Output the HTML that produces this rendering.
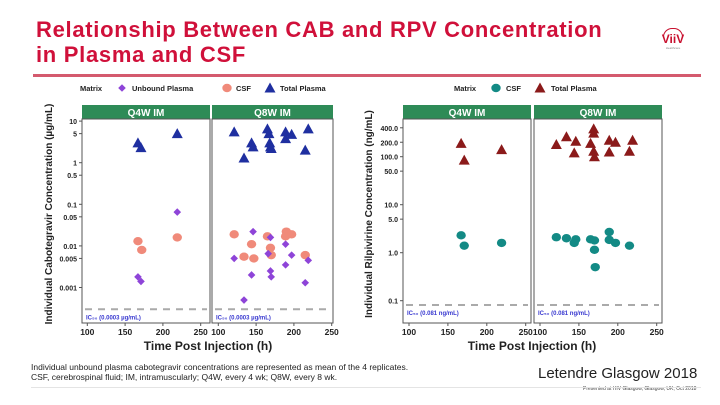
<!DOCTYPE html>
<html><head><meta charset="utf-8"><style>
body{margin:0;background:#fff;}
#wrap{position:relative;width:720px;height:405px;overflow:hidden;font-family:"Liberation Sans",sans-serif;}
.title{position:absolute;left:36px;top:17px;color:#d0103a;font-weight:bold;font-size:22px;letter-spacing:0.7px;line-height:25px;}
</style></head><body>
<div id="wrap">
<div class="title">Relationship Between CAB and RPV Concentration<br>in Plasma and CSF</div>
<div style="position:absolute;left:33px;top:74px;width:668px;height:3px;background:#d45a6e"></div>
<div style="position:absolute;left:663px;top:28px;width:18px;height:8px;border:1px solid #c8102e;border-bottom:none;border-radius:10px 10px 0 0"></div>
<div style="position:absolute;left:657px;top:33px;width:32px;text-align:center;color:#c8102e;font-weight:bold;font-size:12px;line-height:13px">ViiV</div>
<div style="position:absolute;left:657px;top:46px;width:32px;text-align:center;color:#888;font-size:3px;">Healthcare</div>
<svg id="svg" width="720" height="405" style="position:absolute;left:0;top:0"></svg>
<div style="position:absolute;left:31px;top:362px;font-size:8.5px;line-height:10px;color:#222">Individual unbound plasma cabotegravir concentrations are represented as mean of the 4 replicates.<br>CSF, cerebrospinal fluid; IM, intramuscularly; Q4W, every 4 wk; Q8W, every 8 wk.</div>
<div style="position:absolute;left:538px;top:365px;font-size:15px;color:#222">Letendre Glasgow 2018</div>
<div style="position:absolute;left:583px;top:386px;font-size:5px;color:#444">Presented at HIV Glasgow, Glasgow, UK, Oct 2018</div>
<div style="position:absolute;left:31px;top:387px;width:670px;height:1px;background:#e4e4e4"></div>
</div>
<script>
// CAB chart data
const cabQ4Time=[167,171,219];
const cabQ4Total=[3,2.3,5];
const cabQ4CsfTime=[167,172,219];
const cabQ4Csf=[0.013,0.008,0.016];
const cabQ4UnbTime=[167,171,219];
const cabQ4Unb=[0.0018,0.0014,0.065];
const cabQ8TotTime=[121,134,144,146,165,167,168,169,170,189,189,197,215,219];
const cabQ8Total=[5.5,1.3,3,2.4,6.5,5,3,2.4,2.2,5.5,3.8,4.8,2,6.5];
const cabQ8CsfTime=[121,134,144,147,165,169,170,190,189,197,215];
const cabQ8Csf=[0.019,0.0055,0.011,0.005,0.017,0.009,0.006,0.022,0.017,0.019,0.006];
const cabQ8UnbTime=[121,134,144,146,166,169,169,170,189,189,197,215,219];
const cabQ8Unb=[0.005,0.0005,0.002,0.022,0.0065,0.016,0.0025,0.0018,0.011,0.0035,0.006,0.0013,0.0045];
// RPV chart data
const rpvQ4Time=[167,171,219];
const rpvQ4Total=[190,85,140];
const rpvQ4CsfTime=[167,171,219];
const rpvQ4Csf=[2.3,1.4,1.6];
const rpvQ8TotTime=[121,134,146,144,165,169,169,169,170,189,189,197,215,219];
const rpvQ8Total=[180,260,210,120,190,380,310,130,100,220,125,200,130,220];
const rpvQ8CsfTime=[121,134,146,144,165,170,170,171,189,189,197,215];
const rpvQ8Csf=[2.1,2.0,1.9,1.6,1.9,1.8,1.15,0.5,2.7,1.85,1.6,1.4];
const xTicks=[100,150,200,250];
const cabYTicks=[10,5,1,0.5,0.1,0.05,0.01,0.005,0.001];
const cabYLabels=["10","5","1","0.5","0.1","0.05","0.01","0.005","0.001"];
const rpvYTicks=[400,200,100,50,10,5,1,0.1];
const rpvYLabels=["400.0","200.0","100.0","50.0","10.0","5.0","1.0","0.1"];

const S=document.getElementById('svg');const NS='http://www.w3.org/2000/svg';
function mk(t,a,p){const e=document.createElementNS(NS,t);for(const k in a)e.setAttribute(k,a[k]);(p||S).appendChild(e);return e;}
function txt(x,y,s,a){const e=mk('text',Object.assign({x:x,y:y,'font-family':'Liberation Sans, sans-serif'},a));e.textContent=s;return e;}
function tri(x,y,c){const e=mk('polygon',{points:`${x},${y-5.5} ${x-5.5},${y+4.5} ${x+5.5},${y+4.5}`,fill:c});

}
function dot(x,y,c){const e=mk('ellipse',{cx:x,cy:y,rx:4.7,ry:4.2,fill:c});

}
function dia(x,y,c){const e=mk('polygon',{points:`${x},${y-3.8} ${x+3.8},${y} ${x},${y+3.8} ${x-3.8},${y}`,fill:c});

}

function panel(x0,x1,x100,x250,yf,label,ic,icY){
  const h=mk('rect',{x:x0,y:105,width:x1-x0,height:14,fill:'#2e8b57'});
  
  
  txt((x0+x1)/2,116,label,{fill:'#fff','font-size':10,'font-weight':'bold','text-anchor':'middle'});
  const b=mk('rect',{x:x0,y:119,width:x1-x0,height:204,fill:'none',stroke:'#555','stroke-width':1});
  
  
  const xs=v=>x100+(v-100)*(x250-x100)/150;
  xTicks.forEach(v=>{mk('line',{x1:xs(v),x2:xs(v),y1:323,y2:326,stroke:'#555'});
    txt(xs(v),335,String(v),{'font-size':8.5,'font-weight':'bold','text-anchor':'middle',fill:'#222'});});
  const l=mk('line',{x1:x0+3,x2:x1-3,y1:icY,y2:icY,stroke:'#aaa','stroke-width':2,'stroke-dasharray':'7,6'});
  
  
  txt(x0+4,icY+10,ic,{'font-size':6,'font-weight':'bold',fill:'#3a3ad0'});
  return xs;
}
// CAB
const cy=v=>162.7-Math.log10(v)*41.6;
const xa=panel(82,210,87.3,200.7,cy,'Q4W IM','IC\u2085\u2080 (0.0003 \u00b5g/mL)',cy(0.0003));
const xb=panel(212,333,218.3,331.7,cy,'Q8W IM','IC\u2085\u2080 (0.0003 \u00b5g/mL)',cy(0.0003));
cabYTicks.forEach((v,i)=>{mk('line',{x1:79,x2:82,y1:cy(v),y2:cy(v),stroke:'#555'});
  txt(77,cy(v)+3,cabYLabels[i],{'font-size':7,'font-weight':'bold','text-anchor':'end',fill:'#222'});});
cabQ4CsfTime.forEach((t,i)=>dot(xa(t),cy(cabQ4Csf[i]),'#f08a7a'));
cabQ4UnbTime.forEach((t,i)=>dia(xa(t),cy(cabQ4Unb[i]),'#8e44d8'));
cabQ4Time.forEach((t,i)=>tri(xa(t),cy(cabQ4Total[i]),'#1f2fa0'));
cabQ8CsfTime.forEach((t,i)=>dot(xb(t),cy(cabQ8Csf[i]),'#f08a7a'));
cabQ8UnbTime.forEach((t,i)=>dia(xb(t),cy(cabQ8Unb[i]),'#8e44d8'));
cabQ8TotTime.forEach((t,i)=>tri(xb(t),cy(cabQ8Total[i]),'#1f2fa0'));
txt(0,0,'Individual Cabotegravir Concentration (\u00b5g/mL)',{'font-size':10,'font-weight':'bold','text-anchor':'middle',fill:'#222',transform:'translate(52,214) rotate(-90)'});
txt(208,350,'Time Post Injection (h)',{'font-size':12,'font-weight':'bold','text-anchor':'middle',fill:'#222'});
// CAB legend
txt(80,91,'Matrix',{'font-size':7.5,'font-weight':'bold',fill:'#222'});
dia(122,88,'#8e44d8');txt(132,91,'Unbound Plasma',{'font-size':7.5,'font-weight':'bold',fill:'#222'});
dot(227,88,'#f08a7a');txt(236,91,'CSF',{'font-size':7.5,'font-weight':'bold',fill:'#222'});
tri(270,88,'#1f2fa0');txt(280,91,'Total Plasma',{'font-size':7.5,'font-weight':'bold',fill:'#222'});
// RPV
const ry=v=>252.7-Math.log10(v)*48;
const xc=panel(403,531,409,525.7,ry,'Q4W IM','IC\u2085\u2080 (0.081 ng/mL)',305);
const xd=panel(534,662,540,656.7,ry,'Q8W IM','IC\u2085\u2080 (0.081 ng/mL)',305);
rpvYTicks.forEach((v,i)=>{mk('line',{x1:400,x2:403,y1:ry(v),y2:ry(v),stroke:'#555'});
  txt(398,ry(v)+3,rpvYLabels[i],{'font-size':7,'font-weight':'bold','text-anchor':'end',fill:'#222'});});
rpvQ4CsfTime.forEach((t,i)=>dot(xc(t),ry(rpvQ4Csf[i]),'#138a85'));
rpvQ4Time.forEach((t,i)=>tri(xc(t),ry(rpvQ4Total[i]),'#8b1a1a'));
rpvQ8CsfTime.forEach((t,i)=>dot(xd(t),ry(rpvQ8Csf[i]),'#138a85'));
rpvQ8TotTime.forEach((t,i)=>tri(xd(t),ry(rpvQ8Total[i]),'#8b1a1a'));
txt(0,0,'Individual Rilpivirine Concentration (ng/mL)',{'font-size':10,'font-weight':'bold','text-anchor':'middle',fill:'#222',transform:'translate(372,214) rotate(-90)'});
txt(532,350,'Time Post Injection (h)',{'font-size':12,'font-weight':'bold','text-anchor':'middle',fill:'#222'});
txt(454,91,'Matrix',{'font-size':7.5,'font-weight':'bold',fill:'#222'});
dot(496,88,'#138a85');txt(506,91,'CSF',{'font-size':7.5,'font-weight':'bold',fill:'#222'});
tri(540,88,'#8b1a1a');txt(551,91,'Total Plasma',{'font-size':7.5,'font-weight':'bold',fill:'#222'});
</script>
</body></html>
